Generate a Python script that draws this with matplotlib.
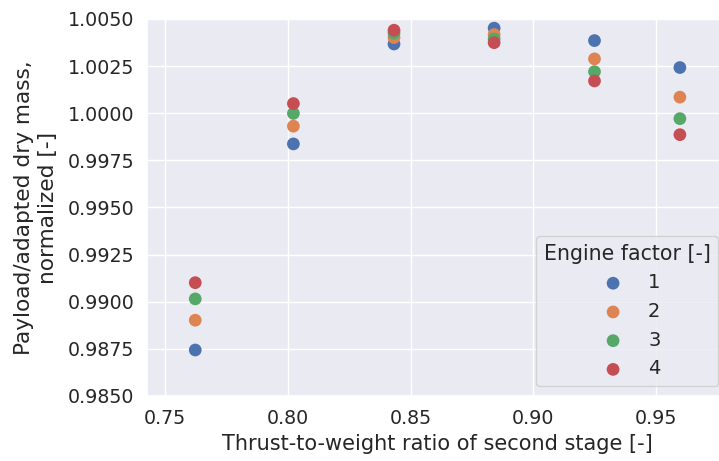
import matplotlib
matplotlib.use("Agg")
import matplotlib.pyplot as plt
import seaborn as sns

sns.set_theme(style="darkgrid", font_scale=1.2)
plt.rcParams["font.family"] = ["DejaVu Sans"]

twr = [0.7622, 0.8022, 0.8432, 0.8840, 0.9249, 0.9597]
engine_factors = ["1", "2", "3", "4"]
# payload / adapted dry mass, normalized, one list per engine factor
payload = {
    "1": [0.98744, 0.99837, 1.00367, 1.00451, 1.00385, 1.00242],
    "2": [0.98902, 0.99931, 1.00401, 1.00417, 1.00288, 1.00085],
    "3": [0.99015, 0.99999, 1.00424, 1.00394, 1.00220, 0.99971],
    "4": [0.99101, 1.00051, 1.00440, 1.00374, 1.00171, 0.99886],
}

colors = sns.color_palette("deep")

fig, ax = plt.subplots(figsize=(7.19, 4.61), dpi=100)
for i, ef in enumerate(engine_factors):
    ax.scatter(twr, payload[ef], s=84, color=colors[i], edgecolor="none",
               label=ef, zorder=3)

ax.set_xlim(0.7427, 0.9793)
ax.set_ylim(0.9850, 1.0050)
ax.set_xticks([0.75, 0.80, 0.85, 0.90, 0.95])
ax.set_yticks([0.9850 + 0.0025 * k for k in range(9)])
ax.yaxis.set_major_formatter(matplotlib.ticker.FormatStrFormatter("%.4f"))
ax.xaxis.set_major_formatter(matplotlib.ticker.FormatStrFormatter("%.2f"))
ax.tick_params(labelsize=13.7)
ax.set_xlabel("Thrust-to-weight ratio of second stage [-]", fontsize=15)
ax.set_ylabel("Payload/adapted dry mass,\nnormalized [-]", fontsize=15.6,
              labelpad=7)

ax.legend(title="Engine factor [-]", loc="lower right", fontsize=14,
          title_fontsize=14.8, borderaxespad=0.5)

# axes runs a little past the right edge of the figure, as in the original
fig.subplots_adjust(left=0.205, right=1.0125, bottom=0.141, top=0.959)
fig.savefig("out.png", dpi=100)
